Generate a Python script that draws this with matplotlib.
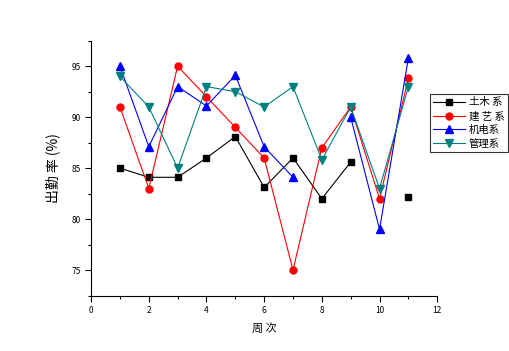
import numpy as np
import matplotlib
matplotlib.use('Agg')
import matplotlib.pyplot as plt
from matplotlib.ticker import MultipleLocator

plt.rcParams['font.family'] = ['Noto Sans CJK SC', 'DejaVu Sans']

weeks = [1, 2, 3, 4, 5, 6, 7, 8, 9, 10, 11]
tumu = [85, 84.1, 84.1, 86, 88.1, 83.1, 86, 82, 85.6, np.nan, 82.2]
jianyi = [91, 83, 95, 92, 89, 86, 75, 87, 91, 82, 93.8]
jidian = [95, 87.1, 93, 91.1, 94.1, 87.1, 84.1, np.nan, 90, 79, 95.8]
guanli = [94, 91, 85, 93, 92.5, 91, 93, 85.8, 91, 83, 93]

labels = ['土木 系', '建 艺 系', '机电系', '管理系']

def main():
    fig = plt.figure(figsize=(5.09, 3.51), dpi=100)
    ax = fig.add_axes([0.179, 0.158, 0.68, 0.726])

    ax.plot(weeks, tumu, color='black', marker='s', markersize=4.5, linewidth=0.8, label=labels[0])
    ax.plot(weeks, jianyi, color='red', marker='o', markersize=5, linewidth=0.8, label=labels[1])
    ax.plot(weeks, jidian, color='blue', marker='^', markersize=5.5, linewidth=0.8, label=labels[2])
    ax.plot(weeks, guanli, color='#008080', marker='v', markersize=5.5, linewidth=0.8, label=labels[3])

    ax.set_xlim(0, 12)
    ax.set_ylim(72.5, 97.5)
    ax.xaxis.set_major_locator(MultipleLocator(2))
    ax.xaxis.set_minor_locator(MultipleLocator(1))
    ax.yaxis.set_major_locator(MultipleLocator(5))
    ax.yaxis.set_minor_locator(MultipleLocator(2.5))
    ax.spines['top'].set_visible(False)
    ax.spines['right'].set_visible(False)
    ax.tick_params(which='major', direction='out', length=4, width=0.8, labelsize=6)
    ax.tick_params(which='minor', direction='out', length=2.5, width=0.8)

    ax.set_xlabel('周 次', fontsize=8, labelpad=6)
    ax.set_ylabel('出勤 率 (%)', fontsize=10, labelpad=8)

    leg = ax.legend(loc='upper left', bbox_to_anchor=(0.965, 0.81), fontsize=7.5,
                    frameon=True, fancybox=False, edgecolor='black',
                    handlelength=3, borderpad=0.3, labelspacing=0.35, handletextpad=0.4)
    leg.get_frame().set_linewidth(0.8)

    fig.savefig('out.png', dpi=100)
    plt.close(fig)

if __name__ == "__main__":
    main()
